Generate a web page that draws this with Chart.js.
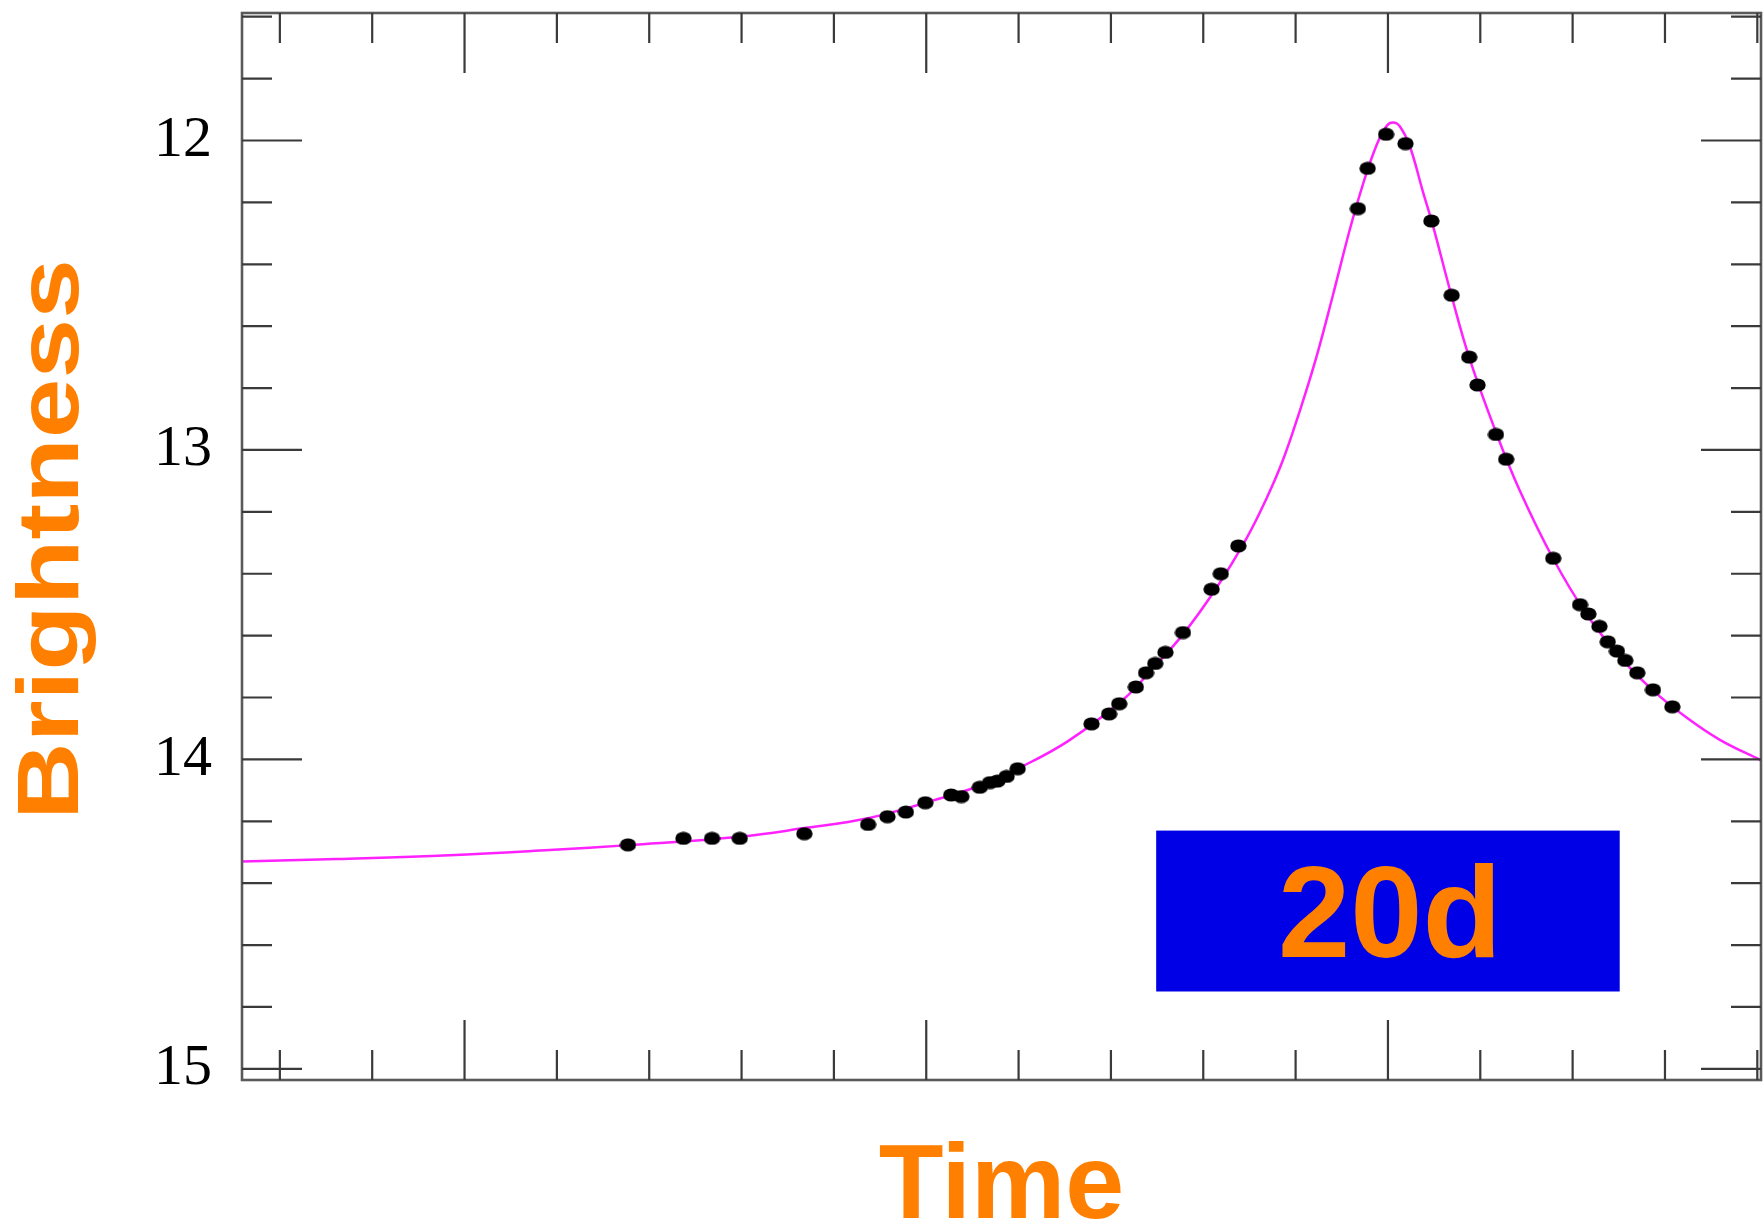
<!DOCTYPE html>
<html>
<head>
<meta charset="utf-8">
<title>Brightness vs Time</title>
<script src="https://cdn.jsdelivr.net/npm/chart.js@4.4.1/dist/chart.umd.min.js"></script>
<style>
    html, body { margin: 0; padding: 0; background: #fff; }
    #wrap { width: 1764px; height: 1228px; }
</style>
</head>
<body>
<div id="wrap"><canvas id="lightcurve" width="1764" height="1228"></canvas></div>
<script>
(function () {
    "use strict";

    // observed photometry (time in days, magnitude)
    var obsTime = [-82.3, -76.3, -73.2, -70.2, -63.2, -56.3, -54.2, -52.2, -50.1, -47.3,
        -46.2, -44.2, -43.1, -42.3, -41.3, -40.1, -32.1, -30.2, -29.1, -27.3,
        -26.2, -25.2, -24.1, -22.2, -19.1, -18.1, -16.2, -3.25, -2.2, -0.2,
        1.9, 4.7, 6.9, 8.8, 9.7, 11.7, 12.8, 17.9, 20.8, 21.7,
        22.9, 23.8, 24.8, 25.7, 27.0, 28.7, 30.8];
    var obsMag = [14.276, 14.255, 14.255, 14.255, 14.24, 14.21, 14.185, 14.17, 14.14, 14.115,
        14.12, 14.09, 14.075, 14.07, 14.055, 14.03, 13.885, 13.853, 13.82, 13.766,
        13.72, 13.69, 13.654, 13.59, 13.45, 13.40, 13.31, 12.22, 12.09, 11.98,
        12.01, 12.26, 12.50, 12.70, 12.79, 12.95, 13.03, 13.35, 13.50, 13.53,
        13.57, 13.62, 13.65, 13.68, 13.72, 13.775, 13.83];

    // fitted model curve, sampled along the magenta line
    var fitTime = [-124.1, -113.8, -101.6, -90.8, -82.2, -70.2, -63.2, -56.3, -50.1, -44.2,
        -40.1, -34.6, -28.6, -25.6, -22.2, -18.6, -15.3, -13.2, -11.4, -9.56,
        -7.75, -5.96, -4.15, -2.7, -1.26, -0.17, 0.54, 1.27, 2.35, 3.79,
        4.87, 6.87, 8.85, 11.74, 14.26, 17.87, 21.49, 25.1, 28.7, 32.3,
        35.9, 40.4];
    var fitMag = [14.33, 14.322, 14.31, 14.293, 14.277, 14.25, 14.222, 14.19, 14.14, 14.085,
        14.03, 13.94, 13.805, 13.71, 13.596, 13.447, 13.285, 13.16, 13.035, 12.875,
        12.70, 12.50, 12.29, 12.141, 12.017, 11.954, 11.942, 11.954, 12.017, 12.166,
        12.275, 12.50, 12.706, 12.946, 13.13, 13.35, 13.53, 13.668, 13.777, 13.864,
        13.936, 14.003];

    var timeRange = [-124.1, 40.4];
    var magRange = [11.588, 15.036];
    var magLabels = [12, 13, 14, 15];

    // the "20d" tag, placed in data coordinates
    var tag = { text: '20d', t0: -25.1, t1: 25.1, m0: 14.23, m1: 14.75 };

    var ORANGE = '#ff8000';
    var SANS = "'Liberation Sans', Arial, Helvetica, sans-serif";
    var SERIF = "'Liberation Serif', 'Times New Roman', serif";

    function isMultiple(v, step) {
        var q = v / step;
        return Math.abs(q - Math.round(q)) < 1e-6;
    }

    // slightly flattened dot, like the original markers
    var dot = document.createElement('canvas');
    dot.width = 17;
    dot.height = 14;
    var dctx = dot.getContext('2d');
    dctx.fillStyle = '#000';
    dctx.beginPath();
    dctx.ellipse(8.5, 7, 8.2, 6.6, 0, 0, Math.PI * 2);
    dctx.fill();

    // frame, inward tick marks, the tag box and the (stretched) y title
    var framePlugin = {
        id: 'frameTicks',
        afterDraw: function (chart) {
            var ctx = chart.ctx;
            var area = chart.chartArea;
            var xs = chart.scales.x;
            var ys = chart.scales.y;
            ctx.save();

            // tag box
            var bx0 = xs.getPixelForValue(tag.t0), bx1 = xs.getPixelForValue(tag.t1);
            var by0 = ys.getPixelForValue(tag.m0), by1 = ys.getPixelForValue(tag.m1);
            ctx.fillStyle = '#0000e6';
            ctx.fillRect(bx0, by0, bx1 - bx0, by1 - by0);
            ctx.fillStyle = ORANGE;
            ctx.font = 'bold 130px ' + SANS;
            ctx.textAlign = 'center';
            ctx.textBaseline = 'alphabetic';
            ctx.fillText(tag.text, (bx0 + bx1) / 2 + 2, (by0 + by1) / 2 + 46);

            // y axis title, stretched along its length like the original
            ctx.save();
            ctx.translate(55, (area.top + area.bottom) / 2 - 7);
            ctx.rotate(-Math.PI / 2);
            ctx.scale(1.22, 1);
            ctx.fillStyle = ORANGE;
            ctx.font = 'bold 88px ' + SANS;
            ctx.textAlign = 'center';
            ctx.fillText('Brightness', 0, 23);
            ctx.restore();

            // frame
            ctx.strokeStyle = '#5a5a5a';
            ctx.lineWidth = 2.6;
            ctx.strokeRect(area.left, area.top, area.right - area.left, area.bottom - area.top);

            // ticks on all four sides
            ctx.strokeStyle = '#3a3a3a';
            ctx.lineWidth = 2.2;
            ctx.beginPath();
            xs.ticks.forEach(function (t) {
                var px = xs.getPixelForValue(t.value);
                var len = isMultiple(t.value, 50) ? 60 : 30;
                ctx.moveTo(px, area.bottom);
                ctx.lineTo(px, area.bottom - len);
                ctx.moveTo(px, area.top);
                ctx.lineTo(px, area.top + len);
            });
            ys.ticks.forEach(function (t) {
                var py = ys.getPixelForValue(t.value);
                var len = isMultiple(t.value, 1) ? 60 : 30;
                ctx.moveTo(area.left, py);
                ctx.lineTo(area.left + len, py);
                ctx.moveTo(area.right, py);
                ctx.lineTo(area.right - len, py);
            });
            ctx.stroke();
            ctx.restore();
        }
    };

    var observed = obsTime.map(function (t, i) { return { x: t, y: obsMag[i] }; });
    var model = fitTime.map(function (t, i) { return { x: t, y: fitMag[i] }; });

    new Chart(document.getElementById('lightcurve'), {
        type: 'scatter',
        data: {
            datasets: [{
                label: 'Observed',
                data: observed,
                pointStyle: dot,
                pointRadius: 7,
                order: 0
            }, {
                label: 'Model',
                data: model,
                showLine: true,
                borderColor: '#ff22ff',
                borderWidth: 2.5,
                pointRadius: 0,
                tension: 0.4,
                order: 1
            }]
        },
        options: {
            responsive: false,
            devicePixelRatio: 1,
            animation: false,
            layout: { autoPadding: false, padding: { top: 13, right: 3, bottom: 0, left: 0 } },
            plugins: {
                legend: { display: false },
                tooltip: { enabled: false }
            },
            scales: {
                x: {
                    type: 'linear',
                    min: timeRange[0],
                    max: timeRange[1],
                    grid: { display: false, drawTicks: false },
                    border: { display: false },
                    ticks: { display: false, stepSize: 10, includeBounds: false, autoSkip: false },
                    title: {
                        display: true,
                        text: 'Time',
                        color: ORANGE,
                        font: { family: SANS, size: 106, weight: 'bold', lineHeight: 0.7 },
                        padding: { top: 0, bottom: 2 }
                    },
                    afterFit: function (s) {
                        s.height = 148;
                        s.paddingLeft = 0;
                        s.paddingRight = 0;
                    }
                },
                y: {
                    type: 'linear',
                    reverse: true,
                    min: magRange[0],
                    max: magRange[1],
                    grid: { display: false, drawTicks: false },
                    border: { display: false },
                    ticks: {
                        stepSize: 0.2,
                        includeBounds: false,
                        autoSkip: false,
                        padding: 30,
                        color: '#000',
                        font: { family: SERIF, size: 58, lineHeight: 1 },
                        callback: function (v) {
                            var r = Math.round(v * 10) / 10;
                            return magLabels.indexOf(r) >= 0 ? String(r) : '';
                        }
                    },
                    title: { display: false },
                    afterFit: function (s) {
                        s.width = 242;
                        s.paddingTop = 0;
                        s.paddingBottom = 0;
                    }
                }
            }
        },
        plugins: [framePlugin]
    });
})();
</script>
</body>
</html>
